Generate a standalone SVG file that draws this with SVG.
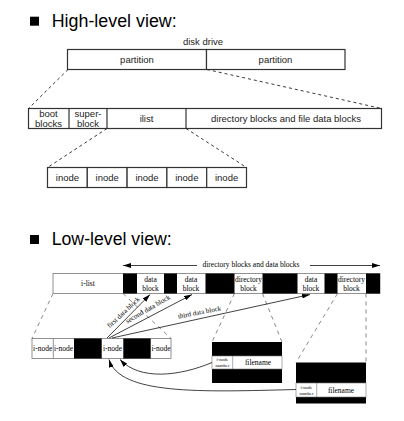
<svg xmlns="http://www.w3.org/2000/svg" width="404" height="421" viewBox="0 0 404 421">
<defs>
<marker id="ah" viewBox="0 0 10 6" refX="10" refY="3" markerWidth="8" markerHeight="5" markerUnits="userSpaceOnUse" orient="auto-start-reverse"><path d="M0,0 L10,3 L0,6 z" fill="#000"/></marker>
</defs>
<style>
.box{fill:#fff;stroke:#333;stroke-width:1.2}
.lbox{fill:#fff;stroke:#777;stroke-width:0.8}
.hs{font-family:"Liberation Sans",Arial,sans-serif;font-size:9.5px;fill:#222;text-anchor:middle}
.title{font-family:"Liberation Sans",Arial,sans-serif;font-size:18px;fill:#000}
.ser{font-family:"Liberation Serif","Times New Roman",serif;font-size:7.5px;fill:#000;text-anchor:middle}
.tiny{font-family:"Liberation Serif","Times New Roman",serif;font-size:4.6px;fill:#000;text-anchor:middle}
.blk{fill:#000}
.dash{stroke:#222;stroke-width:0.9;stroke-dasharray:3,3;fill:none}
.ldash{stroke:#555;stroke-width:0.7;stroke-dasharray:4,4;fill:none}
.ptr{stroke:#111;stroke-width:0.8;fill:none}
</style>

<g id="titles">
<rect x="30" y="16.7" width="9" height="9" class="blk"/>
<text x="51.7" y="26.7" class="title" textLength="125" lengthAdjust="spacingAndGlyphs">High-level view:</text>
<rect x="30" y="235" width="9" height="9" class="blk"/>
<text x="51.7" y="245" class="title" textLength="120" lengthAdjust="spacingAndGlyphs">Low-level view:</text>
</g>

<g id="disk-drive">
<text x="203" y="45" class="hs">disk drive</text>
<rect x="67.5" y="49.5" width="139" height="20" class="box"/>
<rect x="206.5" y="49.5" width="138.5" height="20" class="box"/>
<text x="137" y="63" class="hs">partition</text>
<text x="275.5" y="63" class="hs">partition</text>
</g>

<g id="partition-layout">
<rect x="28.5" y="108.5" width="353" height="20" class="box"/>
<line x1="69" y1="108.5" x2="69" y2="128.5" stroke="#333" stroke-width="1.2"/>
<line x1="107" y1="108.5" x2="107" y2="128.5" stroke="#333" stroke-width="1.2"/>
<line x1="186" y1="108.5" x2="186" y2="128.5" stroke="#333" stroke-width="1.2"/>
<text x="48.5" y="116.5" class="hs">boot</text>
<text x="48.5" y="126.5" class="hs">blocks</text>
<text x="88" y="116.5" class="hs">super-</text>
<text x="88" y="126.5" class="hs">block</text>
<text x="146.5" y="122" class="hs">ilist</text>
<text x="286" y="122" class="hs">directory blocks and file data blocks</text>
</g>

<g id="inode-list">
<rect x="47.5" y="167.5" width="39.8" height="20" class="box"/>
<rect x="87.3" y="167.5" width="39.8" height="20" class="box"/>
<rect x="127.1" y="167.5" width="39.8" height="20" class="box"/>
<rect x="166.9" y="167.5" width="39.8" height="20" class="box"/>
<rect x="206.7" y="167.5" width="39.8" height="20" class="box"/>
<text x="67.4" y="180.5" class="hs">inode</text>
<text x="107.2" y="180.5" class="hs">inode</text>
<text x="147" y="180.5" class="hs">inode</text>
<text x="186.8" y="180.5" class="hs">inode</text>
<text x="226.6" y="180.5" class="hs">inode</text>
</g>

<g id="low-bar">
<rect x="53" y="273.5" width="327" height="20" class="lbox"/>
<rect x="123" y="273.5" width="14" height="20" class="blk"/>
<rect x="164" y="273.5" width="13" height="20" class="blk"/>
<rect x="205.5" y="273.5" width="29" height="20" class="blk"/>
<rect x="262.5" y="273.5" width="35" height="20" class="blk"/>
<rect x="324.5" y="273.5" width="13" height="20" class="blk"/>
<rect x="366" y="273.5" width="14" height="20" class="blk"/>
<text x="88" y="286" class="ser">i-list</text>
<text x="150.5" y="282" class="ser">data</text>
<text x="150.5" y="290.5" class="ser">block</text>
<text x="191" y="282" class="ser">data</text>
<text x="191" y="290.5" class="ser">block</text>
<text x="248.5" y="282" class="ser">directory</text>
<text x="248.5" y="290.5" class="ser">block</text>
<text x="311" y="282" class="ser">data</text>
<text x="311" y="290.5" class="ser">block</text>
<text x="351.5" y="282" class="ser">directory</text>
<text x="351.5" y="290.5" class="ser">block</text>
<text x="251" y="267" class="ser">directory blocks and data blocks</text>
</g>

<g id="low-inodes">
<rect x="32" y="338.5" width="139" height="20" class="lbox"/>
<line x1="53.3" y1="338.5" x2="53.3" y2="358.5" stroke="#777" stroke-width="0.8"/>
<rect x="74" y="338.5" width="27.7" height="20" class="blk"/>
<rect x="123.3" y="338.5" width="27.4" height="20" class="blk"/>
<text x="42.7" y="350.5" class="ser">i-node</text>
<text x="63.6" y="350.5" class="ser">i-node</text>
<text x="112.5" y="350.5" class="ser">i-node</text>
<text x="161" y="350.5" class="ser">i-node</text>
</g>

<g id="dir-entry-1">
<rect x="212" y="342" width="70" height="41" class="blk"/>
<rect x="212" y="356" width="70" height="13" fill="#fff" stroke="#777" stroke-width="0.6"/>
<line x1="232.7" y1="356" x2="232.7" y2="369" stroke="#777" stroke-width="0.6"/>
<text x="222.4" y="361" class="tiny">i-node</text>
<text x="222.4" y="367" class="tiny">number</text>
<text x="258" y="365" class="ser">filename</text>
</g>

<g id="dir-entry-2">
<rect x="296" y="362.5" width="70" height="41" class="blk"/>
<rect x="296" y="383" width="70" height="14" fill="#fff" stroke="#777" stroke-width="0.6"/>
<line x1="316.7" y1="383" x2="316.7" y2="397" stroke="#777" stroke-width="0.6"/>
<text x="306.4" y="388.5" class="tiny">i-node</text>
<text x="306.4" y="394.5" class="tiny">number</text>
<text x="341" y="392.5" class="ser">filename</text>
</g>

<g id="connectors">
<line x1="68" y1="69.5" x2="28.5" y2="108.5" class="dash"/>
<line x1="207" y1="69.5" x2="381.5" y2="108.5" class="dash"/>
<line x1="107" y1="128.5" x2="47.5" y2="167.5" class="dash"/>
<line x1="186" y1="128.5" x2="246.5" y2="167.5" class="dash"/>

<line x1="197" y1="265.5" x2="123" y2="265.5" class="ptr" marker-end="url(#ah)"/>
<line x1="310" y1="265.5" x2="380" y2="265.5" class="ptr" marker-end="url(#ah)"/>

<line x1="53" y1="293.5" x2="32" y2="338.5" class="ldash"/>
<line x1="123" y1="293.5" x2="171" y2="338.5" class="ldash"/>
<line x1="234.5" y1="293.5" x2="212" y2="342" class="ldash"/>
<line x1="262.5" y1="293.5" x2="282" y2="342" class="ldash"/>
<line x1="337.5" y1="293.5" x2="296" y2="362.5" class="ldash"/>
<line x1="366" y1="293.5" x2="366" y2="362.5" class="ldash"/>

<line x1="107" y1="338" x2="150" y2="294.5" class="ptr" marker-end="url(#ah)"/>
<line x1="109" y1="338" x2="192" y2="294.5" class="ptr" marker-end="url(#ah)"/>
<line x1="112" y1="338" x2="310" y2="294.5" class="ptr" marker-end="url(#ah)"/>
<text transform="translate(125,314) rotate(-43)" class="ser" style="font-size:7px">first data block</text>
<text transform="translate(149,311) rotate(-30)" class="ser" style="font-size:7px">second data block</text>
<text transform="translate(200,314.5) rotate(-11)" class="ser" style="font-size:7px">third data block</text>

<path d="M212,362.5 C180,376 140,381 120,359.5" class="ptr" marker-end="url(#ah)"/>
<path d="M296,389.5 C200,392 120,395 109,359.5" class="ptr" marker-end="url(#ah)"/>
</g>
</svg>
